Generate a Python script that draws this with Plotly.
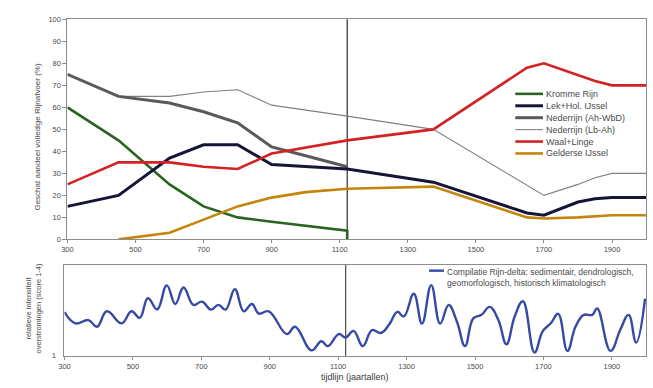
import math
import plotly.graph_objects as go

W, H = 653, 388

# ---- Top panel: estimated share of total Rhine discharge per branch (%) ----
kromme_years = [300, 450, 600, 700, 800, 900, 1122, 1122]
kromme_vals = [60, 45, 25, 15, 10, 8, 4, 0]

lek_years = [300, 450, 600, 700, 800, 900, 1122, 1375, 1650, 1700, 1800, 1850, 1900, 2000]
lek_vals = [15, 20, 37, 43, 43, 34, 32, 26, 12, 11, 17, 18.5, 19, 19]

ned_ahwbd_years = [300, 450, 600, 700, 800, 900, 1000, 1122]
ned_ahwbd_vals = [75, 65, 62, 58, 53, 42, 38, 33]

ned_lbah_years = [300, 450, 600, 700, 800, 900, 1122, 1375, 1700, 1800, 1850, 1900, 2000]
ned_lbah_vals = [75, 65, 65, 67, 68, 61, 56, 50, 20, 25, 28, 30, 30]

waal_years = [300, 450, 600, 700, 800, 900, 1122, 1375, 1650, 1700, 1850, 1900, 2000]
waal_vals = [25, 35, 35, 33, 32, 39, 45, 50, 78, 80, 72, 70, 70]

gijssel_years = [450, 600, 700, 800, 900, 1000, 1122, 1375, 1650, 1700, 1800, 1900, 2000]
gijssel_vals = [0, 3, 9, 15, 19, 21.5, 23, 24, 10, 9.5, 10, 11, 11]

branch_names = ["Kromme Rijn", "Lek+Hol. IJssel", "Nederrijn (Ah-WbD)",
                "Nederrijn (Lb-Ah)", "Waal+Linge", "Gelderse IJssel"]

# ---- Bottom panel: relative flood intensity (score 1-4, log axis) ----
flood_years = [300, 332, 370, 395, 424, 467, 496, 520, 544, 571,
               599, 624, 648, 677, 702, 728, 750, 771, 798, 824,
               848, 868, 897, 950, 974, 1022, 1051, 1070, 1102, 1122,
               1145, 1172, 1199, 1225, 1249, 1273, 1292, 1321, 1345, 1372,
               1398, 1423, 1447, 1471, 1495, 1519, 1543, 1568, 1592, 1616,
               1640, 1674, 1698, 1722, 1743, 1770, 1794, 1818, 1843, 1857,
               1896, 1925, 1949, 1971, 1997]
flood_scores = [2.21, 1.80, 1.91, 1.69, 2.24, 1.80, 2.24, 1.99, 2.84, 2.32,
                3.59, 2.56, 3.45, 2.52, 2.67, 2.31, 2.52, 2.31, 3.35, 2.24,
                2.56, 2.15, 2.24, 1.48, 1.69, 1.10, 1.30, 1.19, 1.48, 1.39,
                1.57, 1.19, 1.59, 1.51, 1.76, 2.22, 2.04, 3.08, 1.79, 3.61,
                1.79, 2.51, 1.86, 1.19, 1.97, 2.10, 2.43, 1.92, 1.23, 2.04,
                2.69, 1.06, 1.56, 1.81, 2.14, 1.09, 1.70, 2.10, 2.10, 2.36,
                1.09, 1.61, 2.10, 1.27, 2.82]
flood_name = "Compilatie Rijn-delta: sedimentair, dendrologisch,<br>geomorfologisch, historisch klimatologisch"

year_ticks = [300, 500, 700, 900, 1100, 1300, 1500, 1700, 1900]
split_year = 1122

FONT = "Liberation Sans, Arial, sans-serif"
TXT = "#4a4a4a"
FRAME = "#8c8c8c"
FLOOD_COL = "#3649a3"

styles = [
    ("#2a6322", 2.6),   # Kromme Rijn
    ("#15153a", 3.0),   # Lek+Hol. IJssel
    ("#5a5a5a", 3.0),   # Nederrijn (Ah-WbD)
    ("#808080", 1.1),   # Nederrijn (Lb-Ah)
    ("#d42222", 2.6),   # Waal+Linge
    ("#c4850c", 2.6),   # Gelderse IJssel
]
series = [
    (kromme_years, kromme_vals),
    (lek_years, lek_vals),
    (ned_ahwbd_years, ned_ahwbd_vals),
    (ned_lbah_years, ned_lbah_vals),
    (waal_years, waal_vals),
    (gijssel_years, gijssel_vals),
]

fig = go.Figure()

# draw order: thin Nederrijn first, then the rest
order = [3, 2, 0, 1, 4, 5]
for i in order:
    xs, ys = series[i]
    col, lw = styles[i]
    fig.add_trace(go.Scatter(x=xs, y=ys, mode="lines", name=branch_names[i],
                             line=dict(color=col, width=lw),
                             xaxis="x", yaxis="y", showlegend=False))

fig.add_trace(go.Scatter(x=flood_years, y=flood_scores, mode="lines",
                         line=dict(color=FLOOD_COL, width=2.4, shape="spline", smoothing=1.2),
                         xaxis="x2", yaxis="y2", showlegend=False))


def px_x(p):
    return p / W


def px_y(p):
    return 1 - p / H


top_dom_y = [px_y(241), px_y(15.7)]
bot_dom_y = [px_y(360), px_y(267)]

base_axis = dict(showline=True, mirror=True, linecolor=FRAME, linewidth=1,
                 showgrid=False, zeroline=False, tickcolor=FRAME,
                 tickfont=dict(size=7.5, color=TXT, family=FONT))

fig.update_layout(
    width=W, height=H,
    margin=dict(l=0, r=0, t=0, b=0),
    paper_bgcolor="white", plot_bgcolor="white",
    showlegend=False,
    xaxis=dict(domain=[px_x(62), px_x(646)], range=[300, 2000], tickvals=year_ticks,
               ticks="outside", ticklen=3, anchor="y", **base_axis),
    yaxis=dict(domain=top_dom_y, range=[0, 100], dtick=10, ticks="outside", ticklen=4,
               anchor="x", **base_axis),
    xaxis2=dict(domain=[px_x(59), px_x(646)], range=[300, 2000], tickvals=year_ticks,
                ticks="outside", ticklen=3, anchor="y2", **base_axis),
    yaxis2=dict(domain=bot_dom_y, type="log", range=[0, 0.7176], tickvals=[1],
                ticktext=["1"], ticks="", ticklabelstandoff=6, anchor="x2", **base_axis),
)

shapes = []
# divider at the damming of the Kromme Rijn
shapes.append(dict(type="line", xref="x", yref="y domain", x0=split_year, x1=split_year,
                   y0=0, y1=1, line=dict(color="#3c3c3c", width=1.3), layer="below"))
shapes.append(dict(type="line", xref="x2", yref="y2 domain", x0=split_year, x1=split_year,
                   y0=0, y1=1, line=dict(color="#3c3c3c", width=1.1), layer="below"))
# minor log ticks along the divider of the lower panel
for v in [2, 3, 4]:
    shapes.append(dict(type="line", xref="x2", yref="y2", xsizemode="pixel", xanchor=split_year,
                       x0=-3, x1=3, y0=math.log10(v), y1=math.log10(v),
                       line=dict(color="#3c3c3c", width=1)))

annotations = []
# legend of the upper panel
for row in range(6):
    col, lw = styles[row]
    yy = 92 + 12.2 * row
    shapes.append(dict(type="line", xref="paper", yref="paper",
                       x0=px_x(514), x1=px_x(542), y0=px_y(yy), y1=px_y(yy),
                       line=dict(color=col, width=lw)))
    annotations.append(dict(xref="paper", yref="paper", x=px_x(543), y=px_y(yy),
                            xanchor="left", yanchor="middle", showarrow=False,
                            text=branch_names[row],
                            font=dict(size=9, color=TXT, family=FONT)))

# legend of the lower panel
shapes.append(dict(type="line", xref="paper", yref="paper",
                   x0=px_x(427), x1=px_x(442), y0=px_y(273), y1=px_y(273),
                   line=dict(color=FLOOD_COL, width=2.4)))
annotations.append(dict(xref="paper", yref="paper", x=px_x(443), y=px_y(267.5),
                        xanchor="left", yanchor="top", align="left", showarrow=False,
                        text=flood_name, font=dict(size=8.5, color=TXT, family=FONT)))

# axis titles
annotations.append(dict(xref="paper", yref="paper", x=px_x(32), y=px_y(136),
                        xanchor="center", yanchor="middle", textangle=-90, showarrow=False,
                        text="Geschat aandeel volledige Rijnafvoer (%)",
                        font=dict(size=8, color=TXT, family=FONT)))
annotations.append(dict(xref="paper", yref="paper", x=px_x(28), y=px_y(311),
                        xanchor="center", yanchor="middle", textangle=-90, showarrow=False,
                        text="relatieve intensiteit<br>overstromingen (score 1-4)",
                        font=dict(size=7.5, color=TXT, family=FONT)))
annotations.append(dict(xref="paper", yref="paper", x=px_x(352), y=px_y(382),
                        xanchor="center", yanchor="middle", showarrow=False,
                        text="tijdlijn (jaartallen)",
                        font=dict(size=9, color="#3a3a3a", family=FONT)))

fig.update_layout(shapes=shapes, annotations=annotations)
fig.write_html("out.html")
